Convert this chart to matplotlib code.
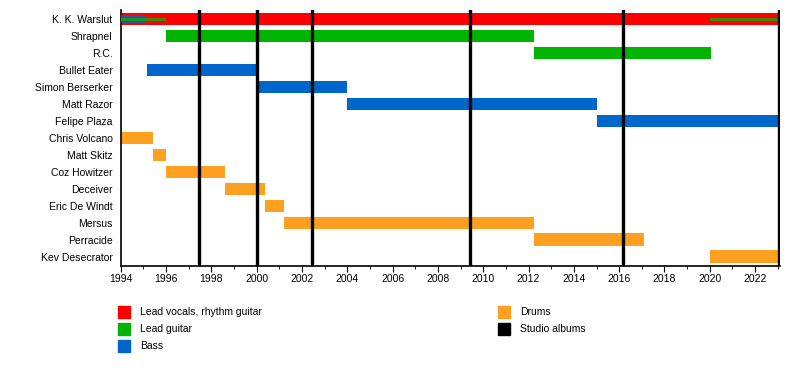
import matplotlib
matplotlib.use("Agg")
import matplotlib.pyplot as plt
from matplotlib.patches import Rectangle

plt.rcParams['font.family'] = ['Liberation Sans', 'DejaVu Sans']

END = 2023.05

members = ["K. K. Warslut", "Shrapnel", "R.C.", "Bullet Eater", "Simon Berserker",
           "Matt Razor", "Felipe Plaza", "Chris Volcano", "Matt Skitz", "Coz Howitzer",
           "Deceiver", "Eric De Windt", "Mersus", "Perracide", "Kev Desecrator"]
starts = [1994.0, 1996.0, 2012.25, 1995.15, 2000.0,
          2004.0, 2015.0, 1994.0, 1995.4, 1996.0,
          1998.6, 2000.35, 2001.2, 2012.25, 2020.0]
ends = [END, 2012.25, 2020.05, 2000.0, 2004.0,
        2015.0, END, 1995.4, 1996.0, 1998.6,
        2000.35, 2001.2, 2012.25, 2017.1, END]
roles = ["vocals", "guitar", "guitar", "bass", "bass",
         "bass", "bass", "drums", "drums", "drums",
         "drums", "drums", "drums", "drums", "drums"]

# secondary (thin) roles drawn on top of a main bar
extra_member = ["K. K. Warslut", "K. K. Warslut", "K. K. Warslut"]
extra_role = ["bass", "guitar", "guitar"]
extra_start = [1994.0, 1994.0, 2020.0]
extra_end = [1995.1, 1996.0, END]

albums = [1997.45, 2000.0, 2002.42, 2009.43, 2016.18, 2023.05]

role_colors = {"vocals": "#ff0000", "guitar": "#00b400",
               "bass": "#0066cc", "drums": "#ffa020"}
legend_labels = ["Lead vocals, rhythm guitar", "Lead guitar", "Bass", "Drums", "Studio albums"]
legend_colors = ["#ff0000", "#00b400", "#0066cc", "#ffa020", "#000000"]

fig = plt.figure(figsize=(8, 3.82), dpi=100)
ax = fig.add_axes([0.151, 0.304, 0.824, 0.67])

ypos = list(range(len(members)))
for y, s, e, r in zip(ypos, starts, ends, roles):
    ax.barh(y, e - s, left=s, height=0.72, color=role_colors[r], zorder=2)

extra_h = {"bass": 0.45, "guitar": 0.2}
for m, r, s, e in zip(extra_member, extra_role, extra_start, extra_end):
    y = members.index(m)
    ax.barh(y, e - s, left=s, height=extra_h[r], color=role_colors[r], alpha=0.75, zorder=3)

for a in albums:
    ax.axvline(a, color="black", linewidth=2.4, zorder=4)

ax.set_ylim(len(members) - 0.45, -0.55)
ax.set_xlim(1994, 2023.1)
ax.set_yticks(ypos)
ax.set_yticklabels(members, fontsize=7.5)
ax.tick_params(axis='y', length=0, pad=6)
ax.set_xticks(range(1994, 2024, 2))
ax.set_xticks(range(1994, 2024), minor=True)
ax.tick_params(axis='x', labelsize=7.5, length=4, pad=2)
ax.tick_params(axis='x', which='minor', length=2)
for side in ['top', 'right']:
    ax.spines[side].set_visible(False)
ax.spines['left'].set_linewidth(1.2)
ax.spines['bottom'].set_linewidth(1.2)

# legend drawn by hand, two columns under the chart
leg_x = [118, 118, 118, 498, 498]
leg_y = [312, 329, 346, 312, 329]
for lbl, col, lx, ly in zip(legend_labels, legend_colors, leg_x, leg_y):
    fig.add_artist(Rectangle((lx / 800, 1 - (ly + 6) / 382), 12 / 800, 12 / 382,
                             transform=fig.transFigure, color=col))
    fig.text((lx + 22) / 800, 1 - ly / 382, lbl, fontsize=7.5, va='center', ha='left')

fig.savefig("out.png", dpi=100)
